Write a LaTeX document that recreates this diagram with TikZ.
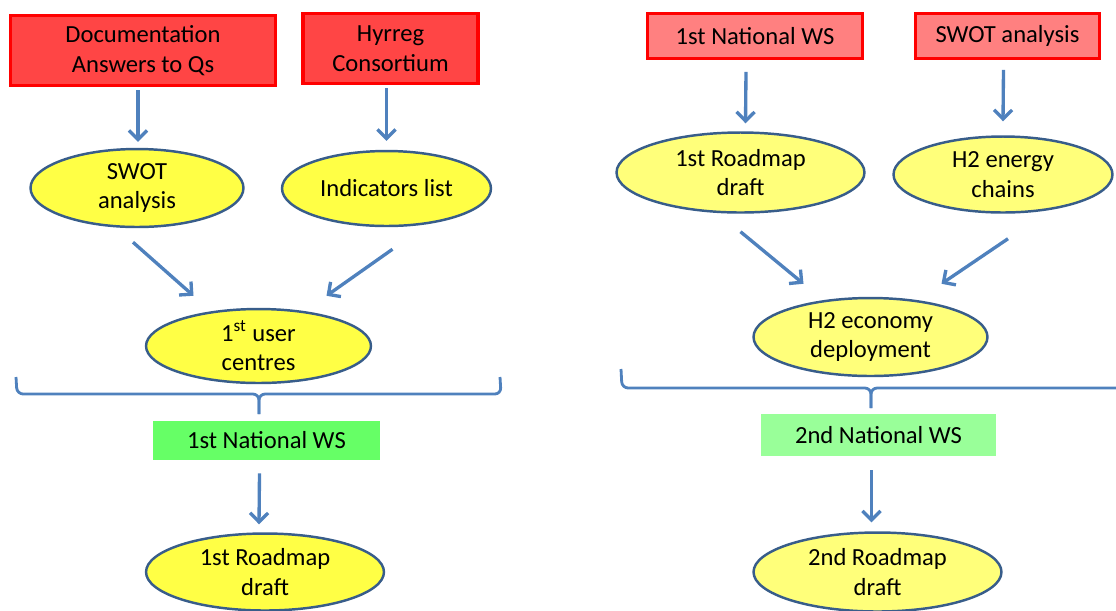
\documentclass[tikz,border=0pt]{standalone}
\usepackage{fontspec}
\setmainfont{Carlito}
\usetikzlibrary{shapes.geometric}
\usetikzlibrary{arrows.meta}

\definecolor{linkblue}{HTML}{4F81BD}
\definecolor{rimblue}{HTML}{385D8A}
\definecolor{redfill}{HTML}{FF4545}
\definecolor{pinkfill}{HTML}{FF8080}
\definecolor{yellowA}{HTML}{FFFF45}
\definecolor{yellowB}{HTML}{FFFF7A}
\definecolor{greenA}{HTML}{66FF66}
\definecolor{greenB}{HTML}{99FF99}

\begin{document}
\begin{tikzpicture}[
  x=0.02cm, y=-0.02cm,
  every node/.style={font=\fontsize{14}{17}\selectfont, align=center, inner sep=0pt},
  sourcebox/.style={
    draw=red,
    line width=2pt,
    fill=redfill
  },
  inputbox/.style={
    sourcebox,
    line width=1.6pt,
    fill=pinkfill
  },
  stepnode/.style={
    draw=rimblue,
    ellipse,
    line width=1.4pt,
    fill=yellowA
  },
  palestep/.style={
    stepnode,
    fill=yellowB
  },
  wsbox/.style={
    fill=greenA
  },
  link/.style={
    draw=linkblue,
    line width=1.9pt,
    -{Straight Barb[length=1.8mm,width=3.6mm]}
  },
  brace/.style={
    draw=linkblue,
    line width=1.6pt,
    rounded corners=3.5pt
  }
]
\useasboundingbox (0,0) rectangle (1116,610);

% First round
\node[sourcebox,minimum width=5.3cm,minimum height=1.4cm] (docs) at (143,50.5) {Documentation\\Answers to Qs};
\node[sourcebox,minimum width=3.5cm,minimum height=1.4cm] (hyrreg) at (390.5,48.5) {Hyrreg\\Consortium};
\node[stepnode,minimum width=4.26cm,minimum height=1.56cm] (swot) at (137,188) {SWOT\\analysis};
\node[stepnode,minimum width=4.18cm,minimum height=1.5cm] (indic) at (386.5,188.5) {Indicators list};
\node[stepnode,minimum width=4.5cm,minimum height=1.48cm] (users) at (258.5,346) {1\textsuperscript{st} user\\centres};
\node[wsbox,minimum width=4.54cm,minimum height=0.78cm] (natws1) at (266.5,440.5) {1st National WS};
\node[stepnode,minimum width=4.76cm,minimum height=1.54cm] (road1) at (265,572) {1st Roadmap\\draft};

\draw[link] ([shift={(-5,3)}]docs.south) -- ([shift={(1,-6)}]swot.north);
\draw[link] ([shift={(-4,3)}]hyrreg.south) -- ([shift={(0,-9)}]indic.north);
\draw[link] ([shift={(-4,14)}]swot.south) -- ([shift={(-65,-12)}]users.north);
\draw[link] ([shift={(6,22)}]indic.south) -- ([shift={(68,-12)}]users.north);
\draw[link] ([shift={(-7,13)}]natws1.south) -- ([shift={(-6,-8)}]road1.north);

\draw[brace] (16,377) -- (17,394) -- (259,394) -- (259,414);
\draw[brace] (259,414) -- (259,394) -- (501,394) -- (500,377);

% Second round
\node[inputbox,minimum width=4.3cm,minimum height=0.9cm] (natin) at (755,36) {1st National WS};
\node[inputbox,minimum width=3.68cm,minimum height=0.9cm] (swotin) at (1007.5,36) {SWOT analysis};
\node[palestep,minimum width=4.96cm,minimum height=1.6cm] (draft) at (740.5,172.5) {1st Roadmap\\draft};
\node[palestep,minimum width=4.38cm,minimum height=1.52cm] (chains) at (1003,174.5) {H2 energy\\chains};
\node[palestep,minimum width=4.68cm,minimum height=1.56cm] (econ) at (870.5,337) {H2 economy\\deployment};
\node[wsbox,fill=greenB,minimum width=4.7cm,minimum height=0.84cm] (natws2) at (878.5,435) {2nd National WS};
\node[palestep,minimum width=4.96cm,minimum height=1.58cm] (road2) at (877.5,572) {2nd Roadmap\\draft};

\draw[link] ([shift={(-9,12)}]natin.south) -- ([shift={(5,-8)}]draft.north);
\draw[link] ([shift={(-4,10)}]swotin.south) -- ([shift={(0,-14)}]chains.north);
\draw[link] ([shift={(0,18)}]draft.south) -- ([shift={(-67,-13)}]econ.north);
\draw[link] ([shift={(5,25)}]chains.south) -- ([shift={(71,-13)}]econ.north);
\draw[link] ([shift={(-7,14)}]natws2.south) -- ([shift={(-6,-9)}]road2.north);

\draw[brace] (621,369) -- (622,388) -- (871,388) -- (871,408);
\draw[brace] (871,408) -- (871,388) -- (1125,388);
\end{tikzpicture}
\end{document}
